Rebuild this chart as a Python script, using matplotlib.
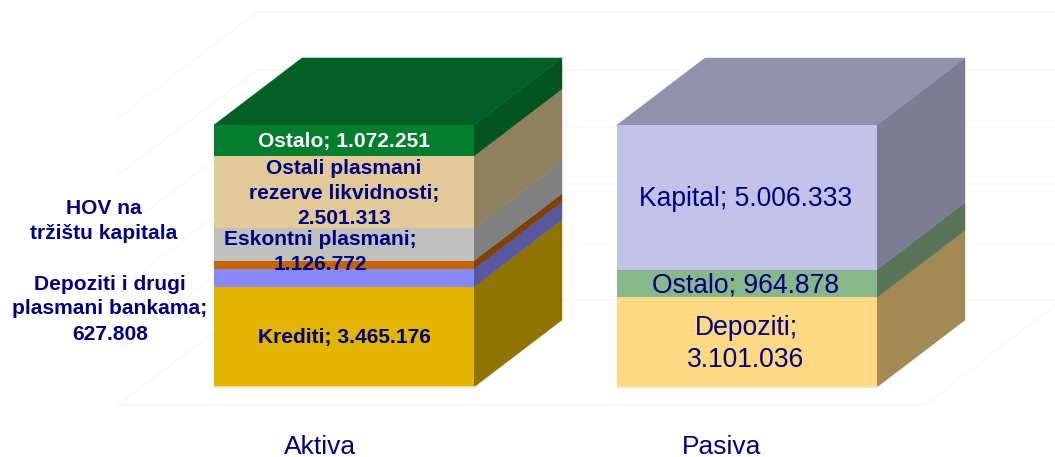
import numpy as np
import matplotlib
matplotlib.use('Agg')
import matplotlib.pyplot as plt

plt.rcParams['font.family'] = ['Liberation Sans', 'DejaVu Sans']

# values, bottom to top of each block
aktiva_names = ['Krediti', 'Depoziti i drugi plasmani bankama', 'HOV na tržištu kapitala',
                'Eskontni plasmani', 'Ostali plasmani rezerve likvidnosti', 'Ostalo']
aktiva_values = [3465176, 627808, 279927, 1126772, 2501313, 1072251]
pasiva_names = ['Depoziti', 'Ostalo', 'Kapital']
pasiva_values = [3101036, 964878, 5006333]

aktiva_front = ['#E2B600', '#8888FF', '#C86400', '#C0C0C0', '#E1C998', '#037D2E']
aktiva_side = ['#907400', '#5858A0', '#804000', '#808080', '#8F8060', '#035520']
aktiva_top = '#036025'
pasiva_front = ['#FFD884', '#86B88A', '#C2C2E8']
pasiva_side = ['#A38A55', '#587558', '#7C7C94']
pasiva_top = '#9292AE'

navy = '#000080'
grid = '#FAFAFA'

total = sum(pasiva_values)
k = total / 262.0   # value units per pixel
base = 387          # pixel row of value 0


def py(p):
    # pixel row from top -> value axis
    return (base - p) * k


fig = plt.figure(figsize=(10.55, 4.57), dpi=100)
ax = fig.add_axes([0, 0, 1, 1])
ax.set_xlim(0, 1055)
ax.set_ylim(py(457), py(0))
ax.axis('off')

# faint back walls and floor
for r0, r1 in zip([118, 175, 233, 290, 348, 405], [12, 70, 127, 184, 243, 300]):
    ax.plot([118, 257], [py(r0), py(r1)], color=grid, lw=1.2)
    ax.plot([257, 1055], [py(r1), py(r1)], color=grid, lw=1.2)
ax.plot([118, 925], [py(405), py(405)], color=grid, lw=1.5)
ax.plot([925, 1055], [py(405), py(305)], color=grid, lw=1.2)


def block(x0, x1, values, front, side, top, dx=88, dy=67):
    d = dy * k
    tops = np.cumsum(values)
    bots = tops - np.array(values)
    for b, t, f, s in zip(bots, tops, front, side):
        ax.fill([x0, x1, x1, x0], [b, b, t, t], color=f, lw=0, zorder=3)
        ax.fill([x1, x1 + dx, x1 + dx, x1], [b, b + d, t + d, t], color=s, lw=0.3, zorder=2)
    t = tops[-1]
    ax.fill([x0, x1, x1 + dx, x0 + dx], [t, t, t + d, t + d], color=top, lw=0.3, zorder=2)
    ax.plot([x0, x1], [0, 0], color='#F5E6B8', lw=1.2, zorder=3)


block(214, 474, aktiva_values, aktiva_front, aktiva_side, aktiva_top)
block(617, 877, pasiva_values, pasiva_front, pasiva_side, pasiva_top)

bold = dict(ha='center', va='center', fontweight='bold', fontsize=15.1, color=navy,
            linespacing=1.4, zorder=5)
ax.text(344, py(141), 'Ostalo; 1.072.251', **{**bold, 'color': 'white'})
ax.text(344, py(193), 'Ostali plasmani\nrezerve likvidnosti;\n2.501.313', **bold)
ax.text(320, py(252), 'Eskontni plasmani;\n1.126.772', **bold)
ax.text(344, py(338), 'Krediti; 3.465.176', **bold)
ax.text(104, py(221), 'HOV na\ntržištu kapitala', **bold)
ax.text(110, py(309), 'Depoziti i drugi\nplasmani bankama;\n627.808', **bold)

reg = dict(ha='center', va='center', fontsize=19.1, color=navy, linespacing=1.33, zorder=5)
ax.text(746, py(199), 'Kapital; 5.006.333', **reg)
ax.text(746, py(285), 'Ostalo; 964.878', **reg)
ax.text(746, py(344), 'Depoziti;\n3.101.036', **reg)

ax.text(320, py(447), 'Aktiva', ha='center', va='center', fontsize=19, color=navy)
ax.text(722, py(447), 'Pasiva', ha='center', va='center', fontsize=19, color=navy)

fig.savefig('out.png', dpi=100)
